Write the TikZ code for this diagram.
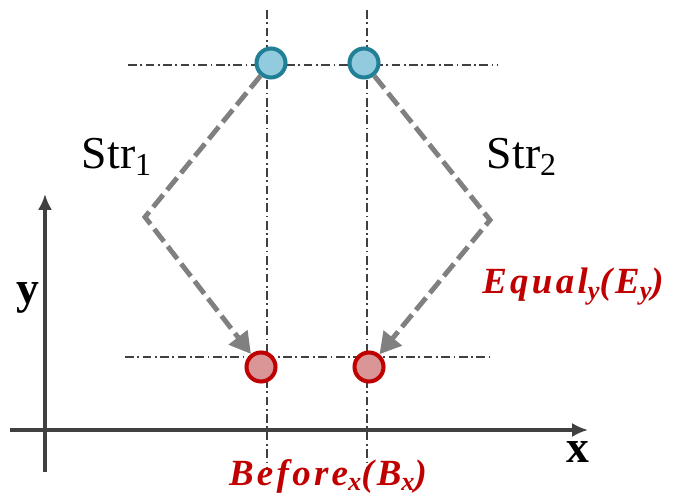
\documentclass[tikz,border=0pt]{standalone}
\usepackage{fontspec}
\setmainfont{Liberation Serif}
\usetikzlibrary{arrows.meta}
\definecolor{ptblue}{RGB}{146,203,221}
\definecolor{ptteal}{RGB}{33,128,150}
\definecolor{ptpink}{RGB}{218,150,150}
\definecolor{ptred}{RGB}{192,0,0}
\newcommand{\lowsub}[1]{\raisebox{-0.35ex}{\fontsize{15}{18}\selectfont #1}}
\begin{document}
\begin{tikzpicture}[x=0.02cm,y=-0.02cm,line width=0.4pt,
  guide/.style={draw=black!75,line width=0.6pt,
                dash pattern=on 5pt off 2pt on 1pt off 2pt},
  axis/.style={draw=black!75,line width=1.8pt,-{Latex[length=9pt,width=8pt]}},
  strpath/.style={draw=black!50,line width=2.8pt,dash pattern=on 9pt off 3.5pt,
                  -{Triangle[length=12pt,width=13pt]}},
  startpt/.style={circle,draw=ptteal,fill=ptblue,line width=2.3pt,
                  minimum size=0.58cm,inner sep=0pt},
  endpt/.style={circle,draw=ptred,fill=ptpink,line width=2.3pt,
                minimum size=0.58cm,inner sep=0pt},
  strlbl/.style={font=\fontsize{26}{30}\selectfont},
  rellbl/.style={text=ptred,
                 font=\fontsize{21}{25}\selectfont\bfseries\itshape\addfontfeatures{LetterSpace=9}}]
  \useasboundingbox (0,0) rectangle (676,499);
  % guide lines
  \draw[guide] (267,10) -- (267,470);
  \draw[guide] (367,10) -- (367,470);
  \draw[guide] (128,65) -- (497,65);
  \draw[guide] (125,357) -- (493,357);
  % axes
  \coordinate (xa) at (10,430);
  \coordinate (xb) at (588,430);
  \coordinate (ya) at (45,472);
  \coordinate (yb) at (45,194);
  \draw[axis] (xa) -- (xb);
  \draw[axis] (ya) -- (yb);
  \node[font=\fontsize{26}{30}\selectfont\bfseries] (xl) at (578,452) {x};
  \node[font=\fontsize{26}{30}\selectfont\bfseries] (yl) at (28,298) {y};
  % corners of the strategies
  \coordinate (c1) at (145,217);
  \coordinate (c2) at (490,220);
  \node[startpt] (t1) at (271,63) {};
  \node[startpt] (t2) at (364,63) {};
  \node[endpt] (b1) at (261,367) {};
  \node[endpt] (b2) at (369,367) {};
  \draw[strpath] (t1) -- (c1) -- (b1);
  \draw[strpath] (t2) -- (c2) -- (b2);
  \node[strlbl] (s1) at (117,157) {Str\textsubscript{1}};
  \node[strlbl] (s2) at (522,157) {Str\textsubscript{2}};
  \node[rellbl] (eq) at (573,287) {Equal\lowsub{y}(E\lowsub{y})};
  \node[rellbl] (bf) at (328,476) {Before\lowsub{x}(B\lowsub{x})};
\end{tikzpicture}
\end{document}
